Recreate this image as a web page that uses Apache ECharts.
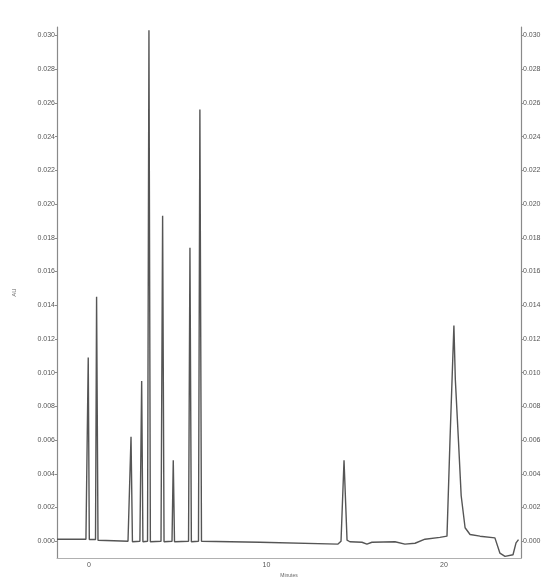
<!DOCTYPE html>
<html>
<head>
<meta charset="utf-8">
<script src="https://cdn.jsdelivr.net/npm/echarts@6/dist/echarts.min.js"></script>
<style>
  html, body { margin: 0; padding: 0; background: #fff; }
  #main { width: 560px; height: 583px; }
</style>
</head>
<body>
<div id="main"></div>
<script>
// time in minutes, absorbance in AU
const earlyTrace = [
  [-1.80, 0.00012], [-0.17, 0.00012], [-0.10, 0.00006], [-0.04, 0.0109], [0.02, 0.0001],
  [0.37, 0.0001], [0.43, 0.0145], [0.51, 0.00006],
  [1.40, 0.00003], [2.20, 0.0], [2.37, 0.0062], [2.45, -0.00003],
  [2.87, 0.0], [2.97, 0.0095], [3.04, -0.00003],
  [3.30, 0.0], [3.38, 0.0303], [3.46, -0.00003],
  [4.06, 0.0], [4.15, 0.0193], [4.23, -0.00003],
  [4.68, 0.0], [4.75, 0.0048], [4.82, -0.00003],
  [5.61, 0.0], [5.69, 0.0174], [5.77, -0.00003],
  [6.17, 0.0], [6.25, 0.0256], [6.34, 0.0]
];

const lateTrace = [
  [9.63, -0.00006], [14.03, -0.00017], [14.20, 0.0], [14.37, 0.0048], [14.54, 0.00006],
  [14.70, -0.00003], [15.38, -0.00006], [15.66, -0.00017], [15.94, -0.00006],
  [17.24, -0.00003], [17.80, -0.00017], [18.37, -0.00012], [18.93, 0.00012],
  [19.77, 0.00023], [20.17, 0.0003], [20.34, 0.0060], [20.56, 0.0128],
  [20.64, 0.0096], [20.82, 0.0059], [20.97, 0.0027], [21.19, 0.0008],
  [21.47, 0.0004], [22.03, 0.0003], [22.87, 0.0002], [23.15, -0.0007],
  [23.44, -0.0009], [23.89, -0.0008], [24.06, -0.0001], [24.20, 0.0001]
];

const yTicks = [0, 0.002, 0.004, 0.006, 0.008, 0.010, 0.012, 0.014,
  0.016, 0.018, 0.020, 0.022, 0.024, 0.026, 0.028, 0.030];
const xTicks = [0, 10, 20];

const chart = echarts.init(document.getElementById('main'));

const yAxisBase = {
  type: 'value',
  min: -0.001,
  max: 0.0305,
  splitLine: { show: false },
  axisLine: { show: true, onZero: false, lineStyle: { color: '#8a8a8a', width: 1.2 } },
  axisTick: { show: true, length: 2, customValues: yTicks, lineStyle: { color: '#8a8a8a' } },
  axisLabel: {
    customValues: yTicks,
    fontSize: 7,
    color: '#555',
    margin: 2,
    formatter: v => v.toFixed(3)
  }
};

chart.setOption({
  animation: false,
  backgroundColor: '#fff',
  grid: { left: 57, right: 39, top: 27, bottom: 13 },
  xAxis: {
    type: 'value',
    min: -1.8,
    max: 24.34,
    name: 'Minutes',
    nameLocation: 'middle',
    nameGap: 9,
    nameTextStyle: { fontSize: 5, color: '#666' },
    splitLine: { show: false },
    axisLine: { onZero: false, lineStyle: { color: '#b0b0b0', width: 1 } },
    axisTick: { show: false, customValues: xTicks },
    axisLabel: { customValues: xTicks, fontSize: 7, color: '#555', margin: 3 }
  },
  yAxis: [
    Object.assign({}, yAxisBase, {
      position: 'left',
      name: 'AU',
      nameLocation: 'middle',
      nameGap: 40,
      nameRotate: 90,
      nameTextStyle: { fontSize: 6, color: '#666' }
    }),
    Object.assign({}, yAxisBase, { position: 'right' })
  ],
  series: [
    {
      type: 'line',
      data: earlyTrace.concat(lateTrace),
      showSymbol: false,
      lineStyle: { color: '#555', width: 1.4 }
    }
  ]
});
</script>
</body>
</html>
